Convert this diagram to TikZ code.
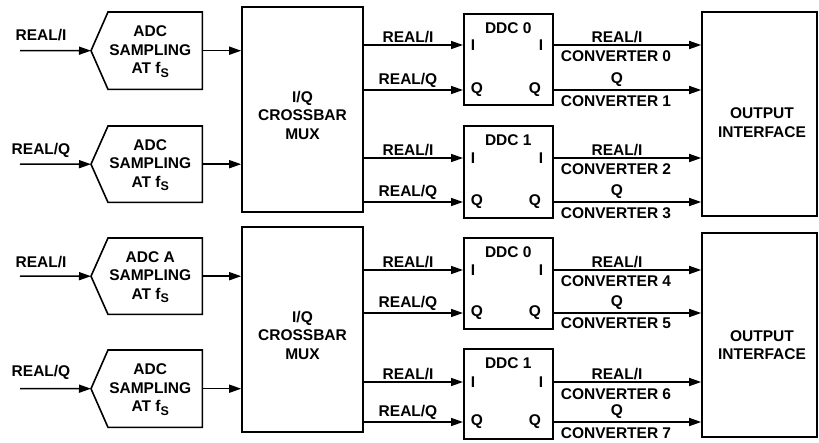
\documentclass[tikz,border=0pt]{standalone}
\usepackage{fontspec}
\setmainfont{Liberation Sans}
\usetikzlibrary{arrows.meta,calc}
\newcommand{\fsub}{f\raisebox{-3.5pt}{\fontsize{12.5}{12.5}\selectfont S}}
\newcommand{\realI}{REAL/I}
\newcommand{\realQ}{REAL/Q}
\begin{document}
\begin{tikzpicture}[x=1pt,y=-1pt,
  every node/.style={font=\fontsize{15.5}{18.5}\selectfont\bfseries, inner sep=0pt, align=center},
  box/.style={draw, line width=1.6pt},
  conn/.style={line width=1.5pt, -{Triangle[length=12pt,width=8pt]}}]
\useasboundingbox (0,0) rectangle (819,442);

% crossbar muxes
\node[box, minimum width=121pt, minimum height=205pt] (mux1) at (302.5,109.5) {};
\node (mux1t) at (302.5,115) {I/Q\\CROSSBAR\\MUX};
\node[box, minimum width=121pt, minimum height=205pt] (mux2) at (302.5,329.5) {};
\node (mux2t) at (302.5,335) {I/Q\\CROSSBAR\\MUX};

% output interfaces
\node[box, minimum width=115pt, minimum height=204pt] (out1) at (759.5,114) {};
\node (out1t) at (762,122.5) {OUTPUT\\INTERFACE};
\node[box, minimum width=115pt, minimum height=204pt] (out2) at (759.5,335) {};
\node (out2t) at (762,345) {OUTPUT\\INTERFACE};

% ADC blocks
\foreach \n/\t/\b/\lab/\inl/\ly/\m in {
  1/12/89/ADC/\realI/35/mux1,
  2/126/202/ADC/\realQ/150/mux1,
  3/238/314/ADC A/\realI/262/mux2,
  4/350/427/ADC/\realQ/372/mux2}{
  \node[minimum width=94pt, minimum height={(\b-\t)*1pt}, anchor=north west] (adc\n) at (108,\t) {};
  \draw[box, line join=miter] (adc\n.north west) -- (adc\n.north east) -- (adc\n.south east)
     -- (adc\n.south west) -- ($(adc\n.west)+(-17,0)$) coordinate (adc\n tip) -- cycle;
  \node (adc\n t) at ($(adc\n.center)+(-5,1)$) {\lab\\SAMPLING\\AT \fsub};
  \coordinate (in\n) at (20,{(\t+\b)/2});
  \draw[conn] (in\n) -- (adc\n tip);
  \node (inl\n) at (41,\ly) {\inl};
  \draw[conn] (adc\n.east) -- (adc\n.east -| \m.west);
}

% DDC blocks
\foreach \n/\t/\b/\lab/\yi/\yq/\m/\o/\ci/\cq/\ciy/\cqy in {
  a/13/104/DDC 0/45/89/mux1/out1/0/1/56/101,
  b/125/217/DDC 1/158/201/mux1/out1/2/3/169/213,
  c/237/328/DDC 0/270/312/mux2/out2/4/5/281/323,
  d/348/438/DDC 1/382/421/mux2/out2/6/7/394/433}{
  \node[box, minimum width=89pt, minimum height={(\b-\t)*1pt}, anchor=north west] (ddc\n) at (463,\t) {};
  \node (ddc\n-t) at ($(ddc\n.north)+(0,15)$) {\lab};
  \node (ddc\n-il) at (473,\yi) {I};
  \node (ddc\n-ir) at (541,\yi) {I};
  \node (ddc\n-ql) at (477,\yq+1) {Q};
  \node (ddc\n-qr) at (535,\yq+1) {Q};
  \draw[conn] (\m.east |- ddc\n-il) -- (ddc\n.west |- ddc\n-il);
  \draw[conn] (\m.east |- ddc\n-ql) -- (ddc\n.west |- ddc\n-ql);
  \node (ddc\n-li) at (408,\yi-8) {REAL/I};
  \node (ddc\n-lq) at (408,\yq-9) {REAL/Q};
  \draw[conn] (ddc\n.east |- ddc\n-ir) -- (\o.west |- ddc\n-ir);
  \draw[conn] (ddc\n.east |- ddc\n-qr) -- (\o.west |- ddc\n-qr);
  \node (ddc\n-oi) at (617,\yi-8) {REAL/I};
  \node (ddc\n-oci) at (616,\ciy) {CONVERTER \ci};
  \node (ddc\n-oq) at (617,\yq-9) {Q};
  \node (ddc\n-ocq) at (616,\cqy) {CONVERTER \cq};
}
\end{tikzpicture}
\end{document}
